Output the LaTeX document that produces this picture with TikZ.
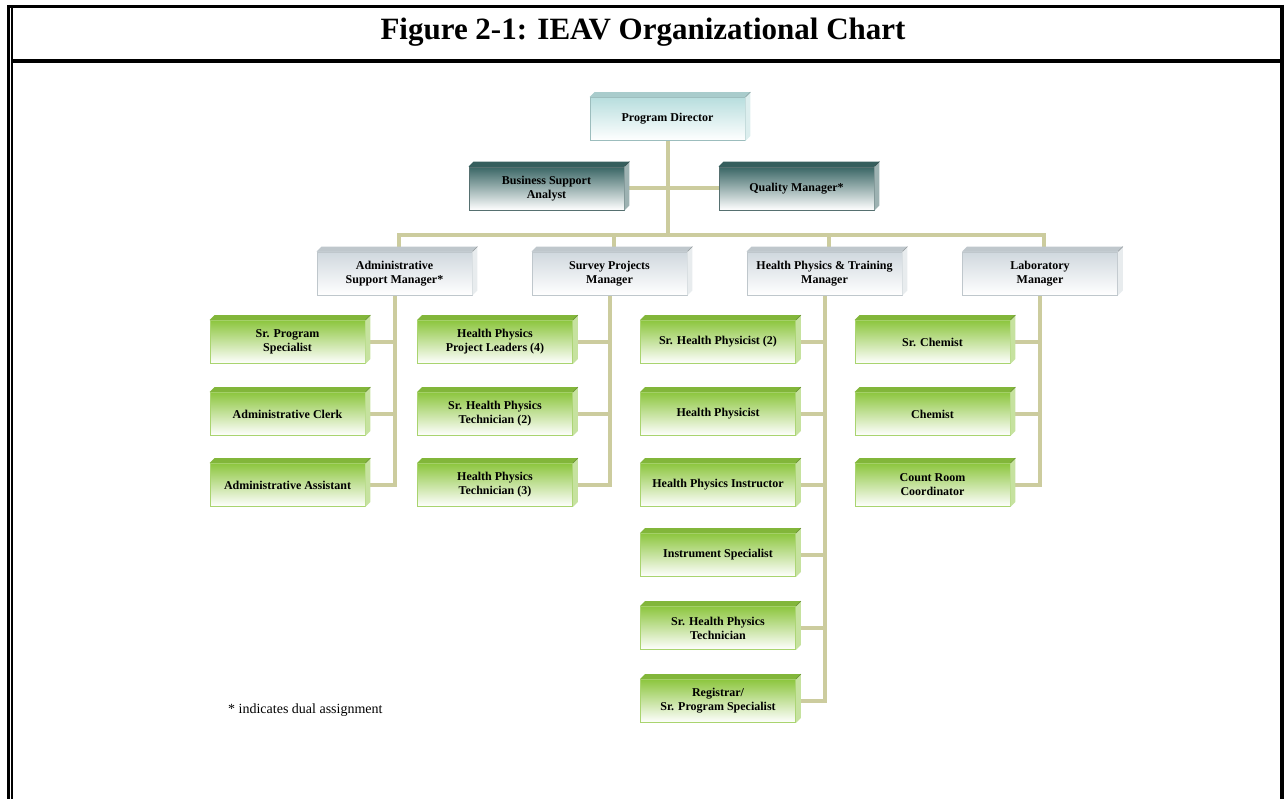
\documentclass[tikz,border=0pt]{standalone}
\usepackage{fontspec}
\setmainfont{Liberation Serif}
\usetikzlibrary{backgrounds}

\definecolor{linkcol}{RGB}{204,204,158}
\definecolor{pdtop}{RGB}{184,222,222}
\definecolor{biztop}{RGB}{58,102,101}
\definecolor{mgrtop}{RGB}{208,216,222}
\definecolor{stafftop}{RGB}{141,198,63}

\begin{document}
\begin{tikzpicture}[x=1pt,y=1pt,
  card/.style={rectangle, inner sep=0pt, minimum width=155pt, minimum height=43pt,
    align=center, font=\fontsize{12}{14}\selectfont\bfseries, line width=0.8pt},
  pdcard/.style={card, top color=pdtop, middle color=pdtop!40, bottom color=white, draw=pdtop!85!black},
  bizcard/.style={card, top color=biztop, middle color=biztop!35, bottom color=white, draw=biztop!60!gray},
  mgrcard/.style={card, top color=mgrtop, middle color=mgrtop!45, bottom color=white, draw=mgrtop!92!black},
  staffcard/.style={card, top color=stafftop, middle color=stafftop!30, bottom color=white, draw=stafftop!75},
  link/.style={draw=linkcol, line width=4pt}]
\useasboundingbox (0,0) rectangle (1286,-799);

% frame and heading
\draw[line width=3pt] (8.5,-5.0) -- (8.5,-799.0);
\draw[line width=1.5pt] (12.0,-8.0) -- (12.0,-799.0);
\draw[line width=3pt] (7.0,-6.5) -- (1284.0,-6.5);
\draw[line width=4pt] (1282.0,-5.0) -- (1282.0,-799.0);
\draw[line width=4pt] (11.0,-61.0) -- (1284.0,-61.0);
\node (title) [anchor=base, font=\fontsize{31}{36}\selectfont\bfseries] at (643.0,-40.0) {Figure 2-1: IEAV Organizational Chart};

% top of the chart
\node[pdcard] (pd) at (667.5,-119.0) {Program Director};
\node[bizcard] (bsa) at (546.5,-188.5) {Business Support\\Analyst};
\node[bizcard] (qm) at (796.5,-188.5) {Quality Manager*};
\node[mgrcard] (adm) at (394.5,-273.5) {Administrative\\Support Manager*};
\node[mgrcard] (spm) at (609.5,-273.5) {Survey Projects\\Manager};
\node[mgrcard] (hpm) at (824.5,-273.5) {Health Physics \& Training\\Manager};
\node[mgrcard] (lab) at (1040.0,-273.5) {Laboratory\\Manager};

% staff
\node[staffcard] (sps) at (287.5,-342.0) {Sr. Program\\Specialist};
\node[staffcard] (acl) at (287.5,-414.0) {Administrative Clerk};
\node[staffcard] (aas) at (287.5,-485.0) {Administrative Assistant};
\node[staffcard] (hpl) at (495.0,-342.0) {Health Physics\\Project Leaders (4)};
\node[staffcard] (shpt) at (495.0,-414.0) {Sr. Health Physics\\Technician (2)};
\node[staffcard] (hpt) at (495.0,-485.0) {Health Physics\\Technician (3)};
\node[staffcard] (shp) at (718.0,-342.0) {Sr. Health Physicist (2)};
\node[staffcard] (hp) at (718.0,-414.0) {Health Physicist};
\node[staffcard] (hpi) at (718.0,-485.0) {Health Physics Instructor};
\node[staffcard] (ins) at (718.0,-555.0) {Instrument Specialist};
\node[staffcard] (shptb) at (718.0,-628.0) {Sr. Health Physics\\Technician};
\node[staffcard] (reg) at (718.0,-701.0) {Registrar/\\Sr. Program Specialist};
\node[staffcard] (sch) at (932.5,-342.0) {Sr. Chemist};
\node[staffcard] (chm) at (932.5,-414.0) {Chemist};
\node[staffcard] (crc) at (932.5,-485.0) {Count Room\\Coordinator};

% bevelled top and right faces
\foreach \n/\c in {pd/pdtop, bsa/biztop, qm/biztop, adm/mgrtop, spm/mgrtop, hpm/mgrtop, lab/mgrtop,
    sps/stafftop, acl/stafftop, aas/stafftop, hpl/stafftop, shpt/stafftop, hpt/stafftop,
    shp/stafftop, hp/stafftop, hpi/stafftop, ins/stafftop, shptb/stafftop, reg/stafftop,
    sch/stafftop, chm/stafftop, crc/stafftop} {
  \fill[\c!92!black] (\n.north west) -- ++(5,5) -- ([shift={(5,5)}]\n.north east) -- (\n.north east) -- cycle;
  \fill[\c!50] (\n.north east) -- ++(5,5) -- ([shift={(5,5)}]\n.south east) -- (\n.south east) -- cycle;
  \draw[\c!70!black, line width=0.4pt] (\n.north east) -- ++(5,5);
}

% connectors
\coordinate (bar) at (667.5,-235.0);
\begin{scope}[on background layer]
\draw[link] (pd.south) -- (bar);
\draw[link] (bsa.east) -- (qm.west);
\draw[link] ([xshift=4pt]adm.north) |- (bar) -| ([xshift=4pt]lab.north);
\draw[link] ([xshift=4pt]spm.north) -- ([xshift=4pt]spm.north |- bar);
\draw[link] ([xshift=4pt]hpm.north) -- ([xshift=4pt]hpm.north |- bar);

\draw[link] (adm.south) |- (aas.east);
\draw[link] (sps.east) -- (sps.east -| adm.south);
\draw[link] (acl.east) -- (acl.east -| adm.south);

\draw[link] (spm.south) |- (hpt.east);
\draw[link] (hpl.east) -- (hpl.east -| spm.south);
\draw[link] (shpt.east) -- (shpt.east -| spm.south);

\draw[link] (hpm.south) |- (reg.east);
\draw[link] (shp.east) -- (shp.east -| hpm.south);
\draw[link] (hp.east) -- (hp.east -| hpm.south);
\draw[link] (hpi.east) -- (hpi.east -| hpm.south);
\draw[link] (ins.east) -- (ins.east -| hpm.south);
\draw[link] (shptb.east) -- (shptb.east -| hpm.south);

\draw[link] (lab.south) |- (crc.east);
\draw[link] (sch.east) -- (sch.east -| lab.south);
\draw[link] (chm.east) -- (chm.east -| lab.south);
\end{scope}

\node (note) [anchor=base west, inner sep=0pt, font=\fontsize{14}{16}\selectfont] at (228.0,-713.0) {* indicates dual assignment};
\end{tikzpicture}
\end{document}
